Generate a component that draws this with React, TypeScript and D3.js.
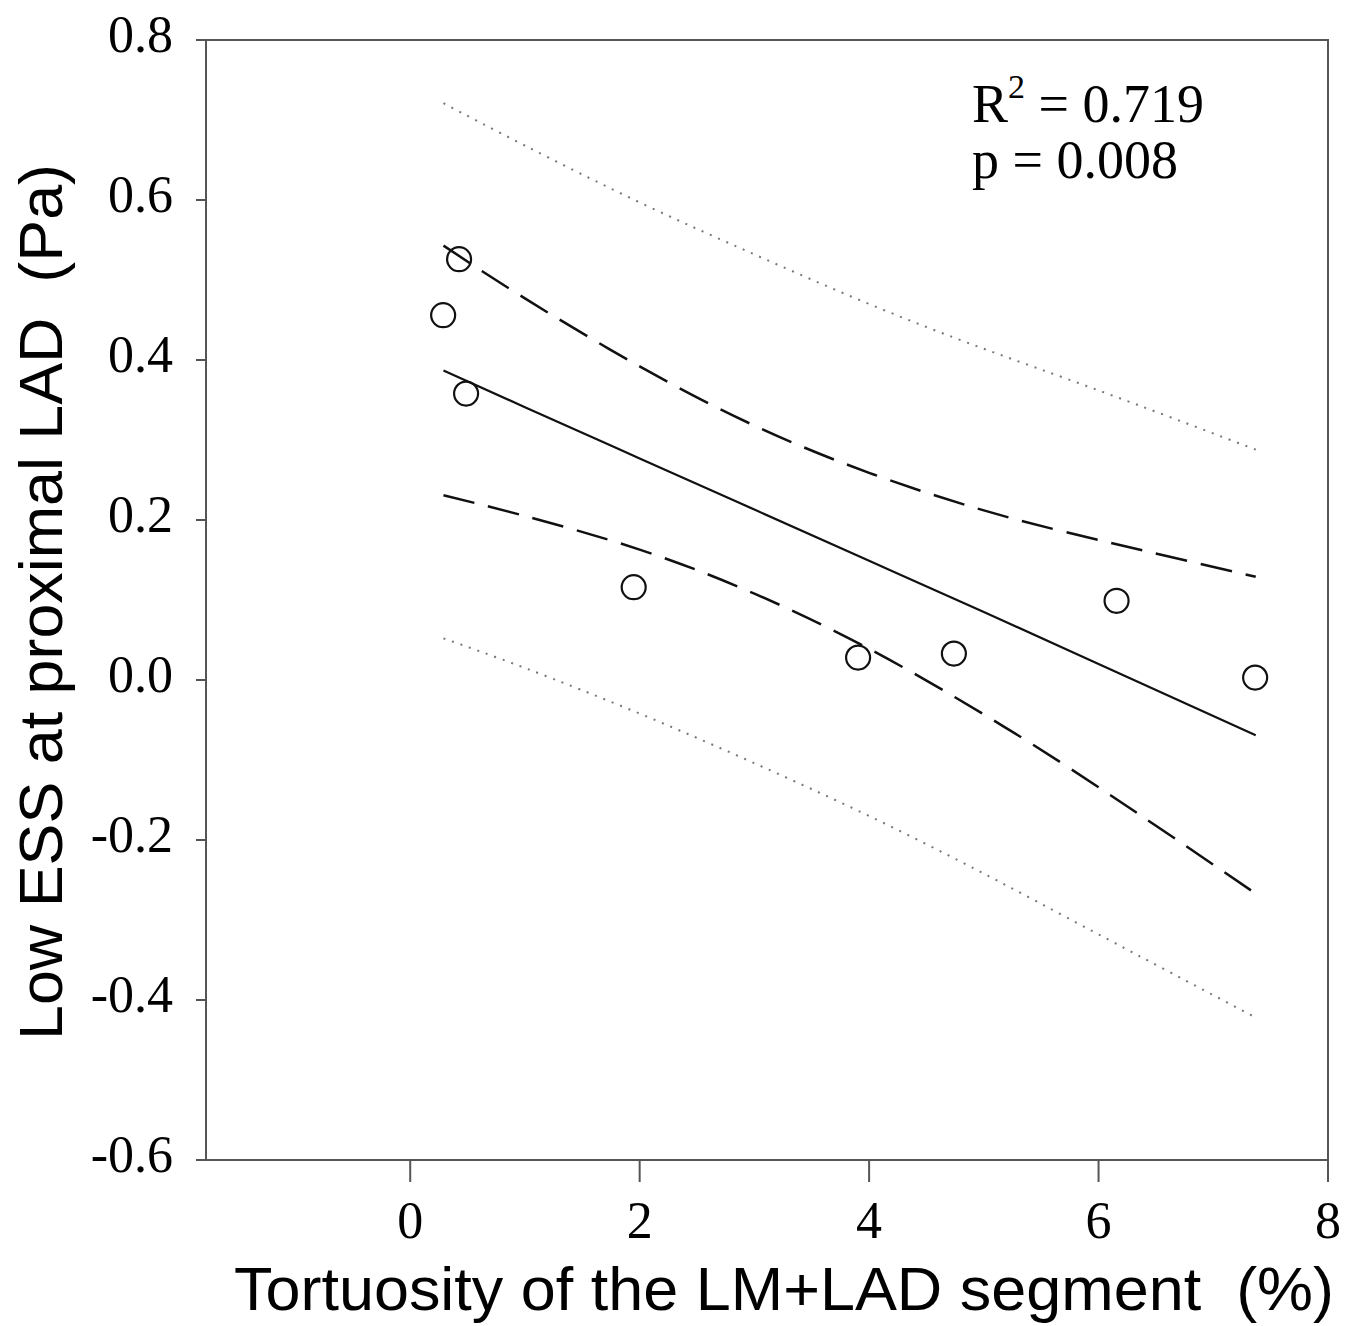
import React, { useEffect, useRef } from 'react';
import * as d3 from 'd3';

// scatter points
const tortuosity = [0.287, 0.426, 0.487, 1.948, 3.904, 4.739, 6.157, 7.365];
const lowEss = [0.456, 0.526, 0.358, 0.116, 0.028, 0.033, 0.099, 0.003];

// regression line and bands, read at these x positions
const bandX = [0.29, 1, 2, 3, 4, 5, 6, 7.37];
const fitLine = [0.387, 0.341, 0.277, 0.213, 0.149, 0.085, 0.02, -0.069];
const ciUpper = [0.543, 0.477, 0.392, 0.318, 0.259, 0.212, 0.175, 0.129];
const ciLower = [0.231, 0.205, 0.163, 0.108, 0.039, -0.043, -0.134, -0.267];
const piUpper = [0.721, 0.668, 0.597, 0.532, 0.47, 0.414, 0.362, 0.288];
const piLower = [0.052, 0.015, -0.042, -0.104, -0.17, -0.242, -0.318, -0.422];

const xTicks = [0, 2, 4, 6, 8];
const yTicks = [0.8, 0.6, 0.4, 0.2, 0.0, -0.2, -0.4, -0.6];

const App = () => {
  const svgRef = useRef(null);

  useEffect(() => {
    const width = 1358;
    const height = 1326;
    const left = 206, right = 1328, top = 40, bottom = 1160;

    const svg = d3.select(svgRef.current);
    svg.selectAll('*').remove();
    svg.attr('width', width).attr('height', height);

    const x = d3.scaleLinear().domain([-1.78, 8]).range([left, right]);
    const y = d3.scaleLinear().domain([-0.6, 0.8]).range([bottom, top]);

    const serif = '"Liberation Serif", "Times New Roman", serif';
    const sans = '"Liberation Sans", Arial, sans-serif';
    const axisColor = '#555';

    // frame
    svg.append('rect')
      .attr('x', left).attr('y', top)
      .attr('width', right - left).attr('height', bottom - top)
      .attr('fill', 'none').attr('stroke', axisColor).attr('stroke-width', 2);

    // y ticks
    yTicks.forEach(t => {
      svg.append('line')
        .attr('x1', left - 10).attr('x2', left)
        .attr('y1', y(t)).attr('y2', y(t))
        .attr('stroke', axisColor).attr('stroke-width', 2);
      svg.append('text')
        .attr('x', 173).attr('y', y(t) + 12)
        .attr('text-anchor', 'end')
        .style('font-family', serif).style('font-size', '52px')
        .text(t.toFixed(1));
    });

    // x ticks
    xTicks.forEach(t => {
      svg.append('line')
        .attr('x1', x(t)).attr('x2', x(t))
        .attr('y1', bottom).attr('y2', bottom + 22)
        .attr('stroke', axisColor).attr('stroke-width', 2);
      svg.append('text')
        .attr('x', x(t)).attr('y', 1238)
        .attr('text-anchor', 'middle')
        .style('font-family', serif).style('font-size', '52px')
        .text(String(t));
    });

    // axis titles
    svg.append('text')
      .attr('x', 784).attr('y', 1310)
      .attr('text-anchor', 'middle')
      .attr('textLength', 1100)
      .attr('lengthAdjust', 'spacingAndGlyphs')
      .style('font-family', sans).style('font-size', '61px')
      .style('white-space', 'pre')
      .text('Tortuosity of the LM+LAD segment  (%)');

    svg.append('text')
      .attr('transform', 'translate(62,602) rotate(-90)')
      .attr('text-anchor', 'middle')
      .attr('textLength', 876)
      .attr('lengthAdjust', 'spacingAndGlyphs')
      .style('font-family', sans).style('font-size', '61px')
      .style('white-space', 'pre')
      .text('Low ESS at proximal LAD  (Pa)');

    // bands and fit
    const bandLine = (vals) => d3.line()
      .x((d, i) => x(bandX[i]))
      .y(d => y(d))
      .curve(d3.curveNatural)(vals);

    const drawPath = (vals, color, width, dash) => {
      svg.append('path')
        .attr('d', bandLine(vals))
        .attr('fill', 'none')
        .attr('stroke', color)
        .attr('stroke-width', width)
        .attr('stroke-dasharray', dash);
    };

    drawPath(piUpper, '#777', 2, '2,7');
    drawPath(piLower, '#777', 2, '2,7');
    drawPath(ciUpper, '#111', 2.5, '32,14');
    drawPath(ciLower, '#111', 2.5, '32,14');
    drawPath(fitLine, '#111', 2.2, null);

    // points
    tortuosity.forEach((t, i) => {
      svg.append('circle')
        .attr('cx', x(t)).attr('cy', y(lowEss[i]))
        .attr('r', 12)
        .attr('fill', 'none')
        .attr('stroke', '#111')
        .attr('stroke-width', 2.2);
    });

    // stats annotation
    const r2 = svg.append('text')
      .attr('x', 972).attr('y', 122)
      .style('font-family', serif).style('font-size', '54px');
    r2.append('tspan').text('R');
    r2.append('tspan').attr('dy', -24).style('font-size', '34px').text('2');
    r2.append('tspan').attr('dy', 24).text(' = 0.719');

    svg.append('text')
      .attr('x', 972).attr('y', 178)
      .style('font-family', serif).style('font-size', '54px')
      .text('p = 0.008');
  }, []);

  return (
    <div style={{ position: 'absolute', left: 0, top: 0, width: 1358, height: 1326, background: '#fff' }}>
      <svg ref={svgRef} style={{ display: 'block' }}></svg>
    </div>
  );
};

export default App;
